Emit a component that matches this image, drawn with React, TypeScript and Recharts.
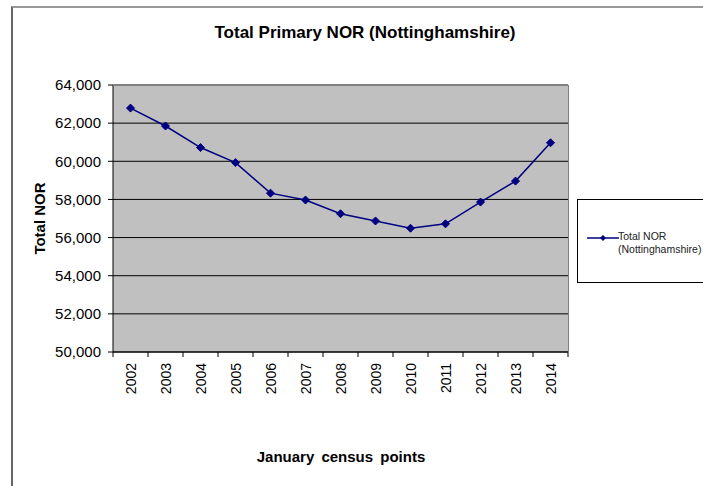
import React from "react";
import { LineChart, Line, XAxis, YAxis, CartesianGrid } from "recharts";

const years = ["2002", "2003", "2004", "2005", "2006", "2007", "2008", "2009", "2010", "2011", "2012", "2013", "2014"];
const totalNOR = [62790, 61850, 60720, 59930, 58330, 57970, 57250, 56870, 56490, 56720, 57860, 58960, 60970];
const yTicks = [50000, 52000, 54000, 56000, 58000, 60000, 62000, 64000];

const data = years.map((y, i) => ({ year: y, value: totalNOR[i] }));

const W = 703;
const H = 486;
const M = { top: 85, right: 135, left: 53, bottom: 84 };
const Y_W = 60;
const X_H = 50;
const PLOT_L = M.left + Y_W;
const PLOT_W = W - M.right - PLOT_L;
const PLOT_T = M.top;
const PLOT_H = H - M.bottom - X_H - M.top;
const BAND = PLOT_W / years.length;

const font = "Arial, 'Liberation Sans', sans-serif";

const XTick = (props: any) => {
  const { x, payload, index } = props;
  const axisY = PLOT_T + PLOT_H;
  return (
    <g>
      <line x1={x - BAND / 2} x2={x - BAND / 2} y1={axisY} y2={axisY + 5} stroke="#000" />
      {index === years.length - 1 && (
        <line x1={x + BAND / 2} x2={x + BAND / 2} y1={axisY} y2={axisY + 5} stroke="#000" />
      )}
      <text
        x={x}
        y={axisY + 11}
        transform={`rotate(-90, ${x}, ${axisY + 11})`}
        textAnchor="end"
        dy="0.36em"
        fontSize={14}
        fontFamily={font}
        fill="#000"
      >
        {payload.value}
      </text>
    </g>
  );
};

const Diamond = (props: any) => {
  const { cx, cy } = props;
  if (cx == null || cy == null) return null;
  const r = 4;
  return <polygon points={`${cx},${cy - r} ${cx + r},${cy} ${cx},${cy + r} ${cx - r},${cy}`} fill="#000080" stroke="#000080" />;
};

const LegendBox = () => (
  <div
    style={{
      position: "absolute",
      left: 577,
      top: 199,
      width: 127,
      height: 84,
      boxSizing: "border-box",
      border: "1px solid #000",
      background: "#fff",
      fontFamily: font,
      fontSize: 10.5,
      color: "#222",
    }}
  >
    <svg width={40} height={20} style={{ position: "absolute", left: 8, top: 28 }}>
      <line x1={1} x2={33} y1={10} y2={10} stroke="#000080" strokeWidth={1.5} />
      <polygon points="17,7 20,10 17,13 14,10" fill="#000080" />
    </svg>
    <div style={{ position: "absolute", left: 40, top: 30, lineHeight: "13px", whiteSpace: "nowrap" }}>
      Total NOR
      <br />
      (Nottinghamshire)
    </div>
  </div>
);

export default function App() {
  return (
    <div style={{ position: "absolute", left: 0, top: 0, width: W, height: H, overflow: "hidden", background: "#fff" }}>
      <div
        style={{
          position: "absolute",
          left: 11,
          top: 6,
          width: 800,
          height: 600,
          borderLeft: "2px solid #666",
          borderTop: "2px solid #999",
        }}
      />
      <div
        style={{
          position: "absolute",
          left: 0,
          width: 730,
          top: 23,
          textAlign: "center",
          fontFamily: font,
          fontWeight: "bold",
          fontSize: 17,
          color: "#000",
        }}
      >
        Total Primary NOR (Nottinghamshire)
      </div>
      <div
        style={{
          position: "absolute",
          left: 0,
          width: 682,
          top: 448,
          textAlign: "center",
          fontFamily: font,
          fontWeight: "bold",
          fontSize: 15,
          wordSpacing: 3,
          color: "#000",
        }}
      >
        January census points
      </div>
      <div style={{ position: "absolute", left: 0, top: 0 }}>
        <LineChart width={W} height={H} data={data} margin={M}>
          <CartesianGrid vertical={false} horizontal={true} stroke="#000" fill="#c0c0c0" strokeOpacity={1} />
          <XAxis
            dataKey="year"
            scale="band"
            height={X_H}
            tick={<XTick />}
            tickLine={false}
            axisLine={{ stroke: "#000" }}
            interval={0}
          />
          <YAxis
            width={Y_W}
            domain={[50000, 64000]}
            ticks={yTicks}
            interval={0}
            tickSize={5}
            tickMargin={7}
            axisLine={{ stroke: "#000" }}
            tickLine={{ stroke: "#000" }}
            tick={{ fontSize: 15, fontFamily: font, fill: "#000" }}
            tickFormatter={(v: number) => v.toLocaleString("en-US")}
            label={{
              value: "Total NOR",
              angle: -90,
              position: "center",
              dx: -43,
              style: { fontSize: 15, fontWeight: "bold", fontFamily: font, fill: "#000", textAnchor: "middle" },
            }}
          />
          <Line
            type="linear"
            dataKey="value"
            name="Total NOR (Nottinghamshire)"
            stroke="#000080"
            strokeWidth={1.5}
            dot={<Diamond />}
            activeDot={false}
            isAnimationActive={false}
          />
        </LineChart>
      </div>
      <div
        style={{
          position: "absolute",
          left: PLOT_L,
          top: PLOT_T,
          width: PLOT_W + 1,
          height: PLOT_H,
          boxSizing: "border-box",
          borderTop: "1px solid #808080",
          borderRight: "1px solid #808080",
          pointerEvents: "none",
        }}
      />
      <LegendBox />
    </div>
  );
}
